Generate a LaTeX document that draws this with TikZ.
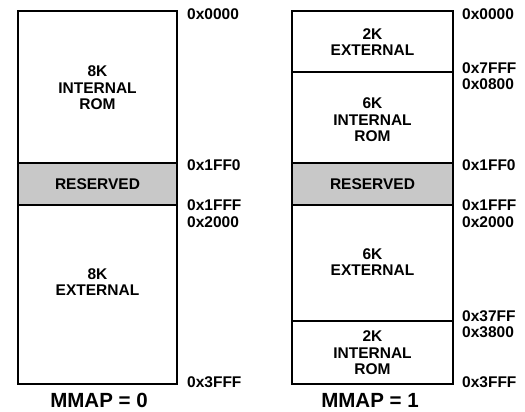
\documentclass[tikz,border=0pt]{standalone}
\usepackage{fontspec}
\setmainfont{Liberation Sans}
\definecolor{rsvgray}{RGB}{200,200,200}
\tikzset{
  region/.style={font=\bfseries\fontsize{15.5}{16.5}\selectfont, align=center, inner sep=0pt},
  addr/.style={font=\bfseries\fontsize{15.5}{16.5}\selectfont, anchor=west, inner sep=0pt},
  caption/.style={font=\bfseries\fontsize{20.5}{22}\selectfont, inner sep=0pt},
  outline/.style={line width=2pt},
  divider/.style={line width=1.4pt},
}
\begin{document}
\begin{tikzpicture}[x=1pt,y=-1pt]
\useasboundingbox (0,0) rectangle (525,412);
% MMAP = 0
    \fill[rsvgray] (18,163) rectangle (177,205);
    \draw[divider] (18,163) -- (177,163) (18,205) -- (177,205);
    \draw[outline] (18,11.5) rectangle (177,384);
    \node[region] (rom0) at (97.5,88) {8K\\INTERNAL\\ROM};
    \node[region] (rsv0) at (97.5,184) {RESERVED};
    \node[region] (ext0) at (97.5,282) {8K\\EXTERNAL};
% MMAP = 1
    \fill[rsvgray] (292,163) rectangle (453,205);
    \draw[divider] (292,72) -- (453,72) (292,163) -- (453,163) (292,205) -- (453,205) (292,321) -- (453,321);
    \draw[outline] (292,11.5) rectangle (453,384);
    \node[region] (ext1a) at (372.5,42) {2K\\EXTERNAL};
    \node[region] (rom1a) at (372.5,120) {6K\\INTERNAL\\ROM};
    \node[region] (rsv1) at (372.5,184) {RESERVED};
    \node[region] (ext1b) at (372.5,262) {6K\\EXTERNAL};
    \node[region] (rom1b) at (372.5,353) {2K\\INTERNAL\\ROM};
% Addresses
    \node[addr] (l0000) at (187,14.5) {0x0000};
    \node[addr] (l1ff0) at (187,165) {0x1FF0};
    \node[addr] (l1fff) at (187,205) {0x1FFF};
    \node[addr] (l2000) at (187,222.5) {0x2000};
    \node[addr] (l3fff) at (187,382) {0x3FFF};
    \node[addr] (r0000) at (462,14.5) {0x0000};
    \node[addr] (r7fff) at (462,68) {0x7FFF};
    \node[addr] (r0800) at (462,84) {0x0800};
    \node[addr] (r1ff0) at (462,165) {0x1FF0};
    \node[addr] (r1fff) at (462,205) {0x1FFF};
    \node[addr] (r2000) at (462,222.5) {0x2000};
    \node[addr] (r37ff) at (462,316) {0x37FF};
    \node[addr] (r3800) at (462,332) {0x3800};
    \node[addr] (r3fff) at (462,382) {0x3FFF};
% Captions
    \node[caption] (map0) at (99,400) {MMAP = 0};
    \node[caption] (map1) at (370,400) {MMAP = 1};
\end{tikzpicture}
\end{document}
